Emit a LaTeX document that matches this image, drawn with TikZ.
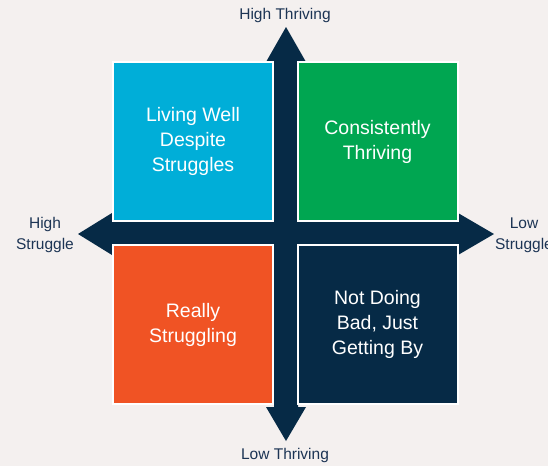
\documentclass[tikz,border=0pt]{standalone}
\usepackage{fontspec}
\setmainfont{Liberation Sans}
\definecolor{bgc}{RGB}{244,240,239}
\definecolor{qblue}{RGB}{0,174,216}
\definecolor{qgreen}{RGB}{0,166,81}
\definecolor{qorange}{RGB}{240,83,36}
\definecolor{qnavy}{RGB}{6,42,70}
\definecolor{labc}{RGB}{28,52,84}
\begin{document}
\begin{tikzpicture}[x=1pt,y=-1pt,
  quad/.style={draw=white,line width=2pt,minimum width=160pt,minimum height=159pt,inner sep=0pt,
    text=white,align=center,font=\fontsize{19.5}{25}\selectfont},
  axlab/.style={text=labc,align=center,font=\fontsize{15.5}{21}\selectfont,inner sep=0pt},
  axfill/.style={fill=qnavy}]
\fill[bgc] (0,0) rectangle (548,466);
\useasboundingbox (0,0) rectangle (548,466);
% vertical arrow
\fill[qnavy] (274,62) -- (266,62) -- (286,27) -- (306,62) -- (298,62) -- (298,407)
  -- (306,407) -- (286,441) -- (266,407) -- (274,407) -- cycle;
% horizontal arrow
\fill[qnavy] (112,222) -- (112,213) -- (78,234) -- (112,255) -- (112,246) -- (458,246)
  -- (458,255) -- (494,234) -- (458,213) -- (458,222) -- cycle;
% quadrants
\node[quad,fill=qblue] (lw) at (193,141.5) {Living Well\\Despite\\Struggles};
\node[quad,fill=qgreen] (ct) at (377.5,141.5) {Consistently\\Thriving};
\node[quad,fill=qorange] (rs) at (193,324.5) {Really\\Struggling};
\node[quad,fill=qnavy] (nd) at (377.5,324.5) {Not Doing\\Bad, Just\\Getting By};
% axis labels
\node[axlab] (ht) at (285,15) {High Thriving};
\node[axlab] (lt) at (285,455) {Low Thriving};
\node[axlab] (hs) at (45,235) {High\\Struggle};
\node[axlab] (ls) at (524,235) {Low\\Struggle};
\end{tikzpicture}
\end{document}
